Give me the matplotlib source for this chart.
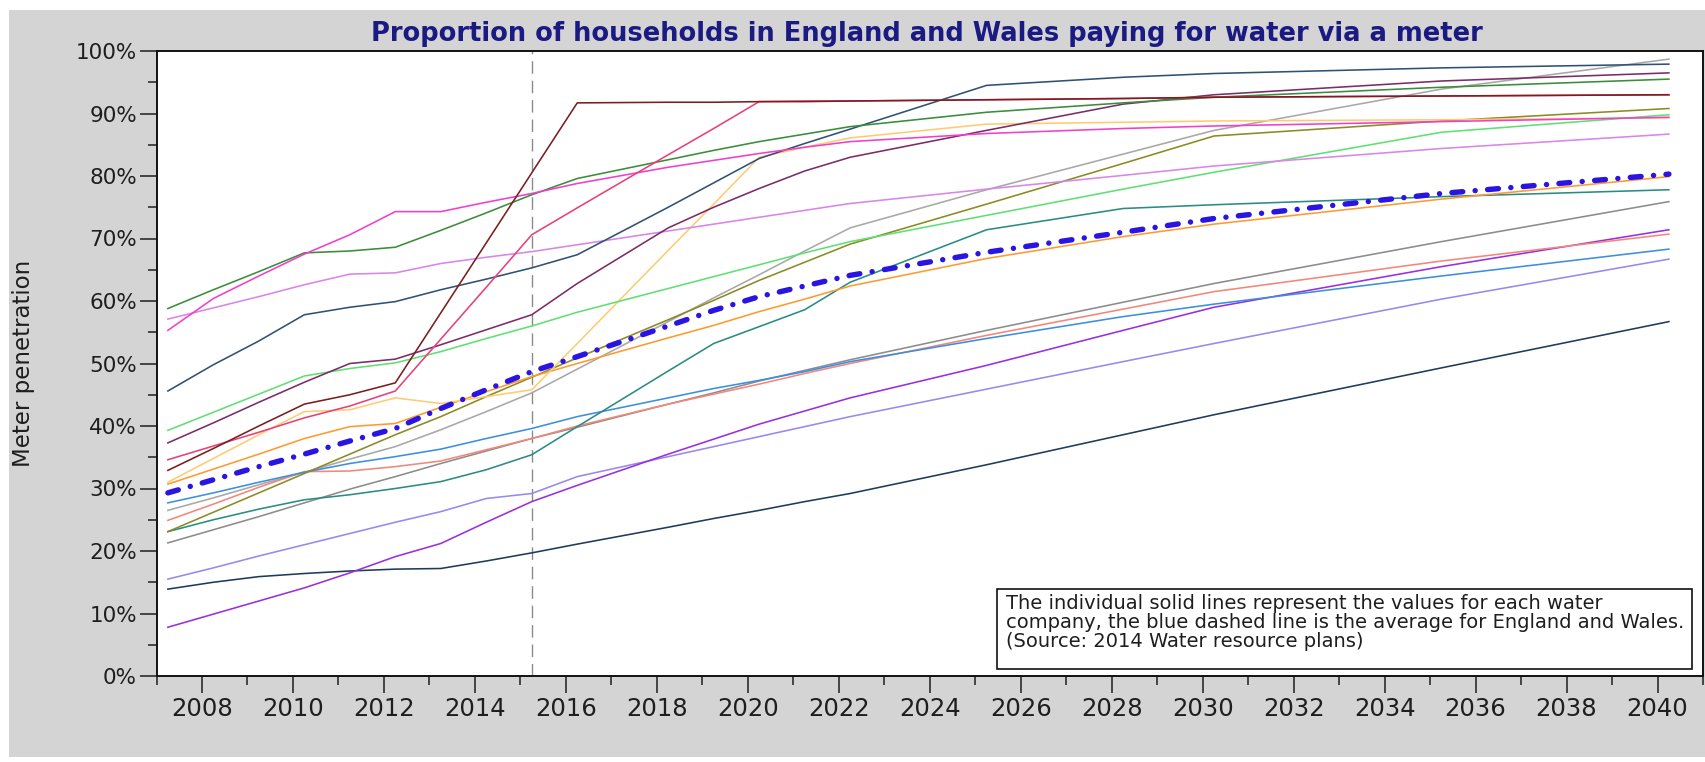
import numpy as np
import matplotlib
matplotlib.use("Agg")
import matplotlib.pyplot as plt
from matplotlib.patches import Rectangle
from matplotlib.ticker import MultipleLocator, FuncFormatter

# ---------------- data ----------------
YEARS = [2007, 2008, 2009, 2010, 2011, 2012, 2013, 2014, 2015, 2016,
         2018, 2019, 2020, 2021, 2022, 2025, 2028, 2030, 2035, 2040]
FY_OFFSET = 0.25          # fiscal years (April start)
FORECAST_START = 2015

green       = [58.8, 61.8, 64.7, 67.7, 68.0, 68.6, 71.3, 74.1, 77.0, 79.6, 82.6, 84.1, 85.5, 86.7, 87.9, 90.2, 91.7, 92.6, 94.2, 95.5]
magenta     = [55.3, 60.4, 64.0, 67.5, 70.6, 74.3, 74.3, 75.8, 77.2, 78.8, 81.4, 82.5, 83.6, 84.6, 85.5, 86.8, 87.6, 88.0, 88.7, 89.4]
orchid      = [57.1, 58.9, 60.7, 62.6, 64.3, 64.5, 66.0, 67.0, 67.9, 69.0, 71.2, 72.3, 73.4, 74.5, 75.6, 77.9, 80.1, 81.6, 84.4, 86.7]
slate       = [45.6, 49.8, 53.6, 57.8, 59.0, 59.9, 61.8, 63.5, 65.3, 67.4, 75.0, 78.9, 82.8, 85.2, 87.5, 94.5, 95.8, 96.4, 97.3, 97.9]
brown       = [32.9, 36.4, 40.0, 43.5, 45.0, 46.9, 58.1, 69.3, 80.5, 91.7, 91.8, 91.8, 91.9, 91.9, 92.0, 92.2, 92.4, 92.6, 92.8, 93.0]
crimson     = [34.6, 36.8, 39.0, 41.3, 43.2, 45.6, 53.9, 62.2, 70.6, 74.9, 83.4, 87.6, 91.9, 92.0, 92.0, 92.2, 92.4, 92.6, 92.8, 93.0]
plum        = [37.3, 40.5, 43.8, 47.0, 50.0, 50.7, 53.0, 55.4, 57.8, 62.8, 71.7, 75.0, 78.0, 80.8, 83.0, 87.3, 91.5, 93.0, 95.2, 96.5]
light_green = [39.3, 42.2, 45.1, 48.0, 49.2, 50.1, 51.9, 54.0, 56.0, 58.2, 62.0, 63.9, 65.8, 67.7, 69.5, 73.7, 77.9, 80.6, 87.0, 89.8]
light_orange= [31.0, 34.8, 38.6, 42.3, 42.6, 44.5, 43.6, 44.7, 45.8, 53.2, 68.1, 75.5, 83.0, 84.6, 86.1, 88.3, 88.6, 88.8, 89.0, 89.3]
orange      = [30.7, 33.1, 35.5, 38.0, 39.9, 40.4, 43.0, 45.5, 47.9, 50.0, 54.1, 56.1, 58.3, 60.3, 62.4, 66.8, 70.3, 72.3, 76.3, 79.9]
blue        = [27.7, 29.3, 31.0, 32.6, 34.0, 35.1, 36.3, 38.0, 39.6, 41.5, 44.5, 46.0, 47.3, 48.7, 50.3, 54.0, 57.5, 59.5, 64.0, 68.3]
grey_a      = [26.5, 28.5, 30.6, 32.6, 34.7, 36.7, 39.4, 42.3, 45.3, 49.1, 56.7, 60.5, 64.2, 68.0, 71.7, 77.8, 83.5, 87.3, 93.9, 98.7]
salmon      = [24.9, 27.5, 30.2, 32.7, 32.8, 33.5, 34.4, 36.2, 38.0, 40.0, 43.5, 45.1, 46.7, 48.4, 50.0, 54.5, 58.7, 61.5, 66.4, 70.7]
olive       = [23.1, 26.2, 29.3, 32.4, 35.5, 38.6, 41.5, 44.7, 47.8, 50.9, 57.0, 60.1, 63.3, 66.2, 69.1, 75.5, 82.0, 86.4, 88.8, 90.8]
teal        = [23.1, 25.0, 26.7, 28.2, 29.0, 30.0, 31.1, 33.0, 35.4, 39.9, 48.8, 53.2, 55.9, 58.6, 63.0, 71.4, 74.8, 75.4, 76.7, 77.8]
grey_b      = [21.3, 23.4, 25.5, 27.7, 29.9, 31.9, 34.0, 36.0, 38.0, 39.8, 43.5, 45.3, 47.2, 48.9, 50.6, 55.3, 59.8, 62.8, 69.5, 75.9]
light_purple= [15.5, 17.3, 19.2, 21.0, 22.8, 24.6, 26.3, 28.4, 29.2, 31.9, 35.1, 36.7, 38.3, 39.9, 41.5, 45.9, 50.3, 53.2, 60.3, 66.7]
navy        = [13.9, 15.0, 15.9, 16.4, 16.8, 17.1, 17.2, 18.4, 19.7, 21.1, 23.8, 25.2, 26.5, 27.9, 29.2, 33.8, 38.6, 41.8, 49.3, 56.7]
purple      = [7.8, 9.9, 12.0, 14.1, 16.5, 19.1, 21.2, 24.6, 27.9, 30.5, 35.5, 37.9, 40.3, 42.4, 44.5, 49.7, 55.3, 59.0, 65.5, 71.4]
average     = [29.3, 31.4, 33.5, 35.5, 37.6, 39.6, 42.8, 45.8, 48.7, 51.1, 56.0, 58.5, 60.7, 62.4, 64.1, 67.8, 71.0, 73.2, 77.2, 80.3]

companies = [
    (grey_a, '#a8a8a8'), (grey_b, '#8c8c8c'), (navy, '#1f3b5c'),
    (light_purple, '#9a88ec'), (purple, '#9a2ee0'), (salmon, '#f3877a'),
    (blue, '#3b8fe0'), (teal, '#2a8c84'), (olive, '#8c8a22'),
    (orange, '#ff9a2e'), (light_orange, '#ffcb72'), (light_green, '#5fe073'),
    (orchid, '#d985ea'), (plum, '#7c2c68'), (slate, '#2f5274'),
    (green, '#3a8d3a'), (magenta, '#f23fcb'), (crimson, '#e8407a'),
    (brown, '#7a1e1e'),
]

TITLE = "Proportion of households in England and Wales paying for water via a meter"
YLABEL = "Meter penetration"
NOTE = ("The individual solid lines represent the values for each water\n"
        "company, the blue dashed line is the average for England and Wales.\n"
        "(Source: 2014 Water resource plans)")

# ---------------- figure ----------------
W, H = 1706, 762
fig = plt.figure(figsize=(W / 100, H / 100), dpi=100, facecolor='white')
fig.patches.append(Rectangle((9 / W, 5 / H), 1, (757 - 10) / H, transform=fig.transFigure,
                             facecolor='#d4d4d4', edgecolor='none', zorder=-10))

ax = fig.add_axes([156.5 / W, (H - 676) / H, (1703 - 156.5) / W, (676 - 51) / H])
ax.set_facecolor('white')

x = np.array(YEARS) + FY_OFFSET
for vals, col in companies:
    ax.plot(x, vals, color=col, lw=1.15, zorder=2)

ax.plot(x, average, color='#2a14e2', lw=3.9, zorder=4,
        dashes=(2.0, 2.3, 0.01, 2.3), dash_capstyle='round')

ax.axvline(FORECAST_START + FY_OFFSET, color='#8a8a8a', lw=1.0, dashes=(9, 5), zorder=1)

ax.set_xlim(2007, 2041)
ax.set_ylim(0, 100)
ax.xaxis.set_minor_locator(MultipleLocator(1))
ax.set_xticks(np.arange(2008, 2041, 2))
ax.yaxis.set_major_locator(MultipleLocator(10))
ax.yaxis.set_minor_locator(MultipleLocator(5))
ax.yaxis.set_major_formatter(FuncFormatter(lambda v, p: f"{v:.0f}%"))

ax.tick_params(axis='both', which='major', direction='out', length=12, width=1.1,
               labelcolor='#1e1e1e', color='#1e1e1e')
ax.tick_params(axis='x', which='major', labelsize=17.5, pad=3)
ax.tick_params(axis='y', which='major', labelsize=15.5, pad=2)
ax.tick_params(axis='both', which='minor', direction='out', length=6.5, width=1.1,
               color='#1e1e1e')
for s in ax.spines.values():
    s.set_linewidth(1.4)
    s.set_color('#111111')

fig.text((365 + 1488) / 2 / W, 1 - 41 / H, TITLE, ha='center', va='baseline',
         fontsize=18.5, fontweight='bold', color='#1a1a82')
fig.text(24 / W, 1 - 363.5 / H, YLABEL, rotation=90, ha='center', va='center',
         fontsize=16.5, color='#1e1e1e')

# note box
bx0, bx1 = (997 - 156.5) / 1546.5, (1692 - 156.5) / 1546.5
by0, by1 = (676 - 669) / 625, (676 - 589) / 625
ax.add_patch(Rectangle((bx0, by0), bx1 - bx0, by1 - by0, transform=ax.transAxes,
                       facecolor='white', edgecolor='#111111', lw=1.2, zorder=6))
ax.text((1006 - 156.5) / 1546.5, (676 - 594) / 625, NOTE, transform=ax.transAxes,
        ha='left', va='top', fontsize=14, color='#1e1e1e', linespacing=1.0, zorder=7)

fig.savefig("out.png", dpi=100, facecolor=fig.get_facecolor())
